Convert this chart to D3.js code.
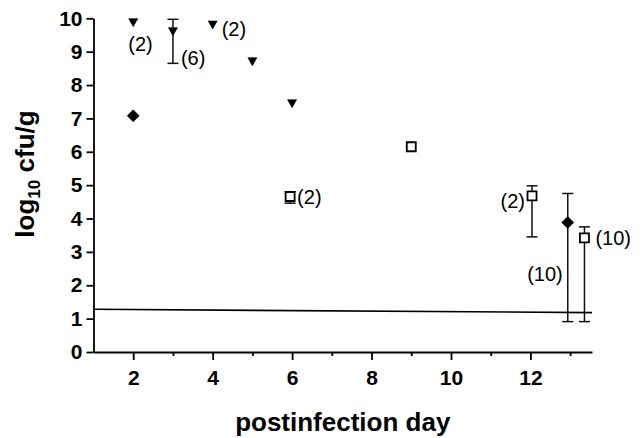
<!DOCTYPE html>
<html>
<head>
<meta charset="utf-8">
<script src="https://cdn.jsdelivr.net/npm/d3@7"></script>
<style>
  body { margin: 0; background: #fff; }
  svg { display: block; font-family: "Liberation Sans", Arial, sans-serif; }
  .axis path, .axis line { stroke: #000; stroke-width: 1.8; }
  .axis text { font-size: 21px; font-weight: bold; fill: #000; }
  .bar { stroke: #111; stroke-width: 1.5; fill: none; }
  .note { font-size: 20px; fill: #000; }
</style>
</head>
<body>
<svg id="chart" width="643" height="438"></svg>
<script>
// filled down triangles
var triangleDay = [2, 3, 4, 5, 6];
var triangleLog = [9.87, 9.6, 9.8, 8.7, 7.44];
var triangleLow = [null, 8.65, null, null, null];
var triangleHigh = [null, 9.97, null, null, null];
var triangleN = ['(2)', '(6)', '(2)', '', ''];

// filled diamonds
var diamondDay = [2, 12.94];
var diamondLog = [7.08, 3.88];
var diamondLow = [null, 0.91];
var diamondHigh = [null, 4.75];
var diamondN = ['', '(10)'];

// open squares
var squareDay = [5.95, 9, 12.04, 13.36];
var squareLog = [4.66, 6.15, 4.68, 3.42];
var squareLow = [4.46, null, 3.45, 0.91];
var squareHigh = [4.8, null, 4.98, 3.75];
var squareN = ['(2)', '', '(2)', '(10)'];

// detection limit line
var limitDay = [1, 13.55];
var limitLog = [1.28, 1.18];

var yTicks = [0, 1, 2, 3, 4, 5, 6, 7, 8, 9, 10];
var xTicks = [2, 4, 6, 8, 10, 12];
var xMinor = [3, 5, 7, 9, 11, 13];

// where the (n) labels sit relative to their mark: [dx, dy, anchor]
var triangleNotePos = [[-5, 28, 'start'], [8, 33, 'start'], [9, 11, 'start'], null, null];
var diamondNotePos = [null, [-5, 58, 'end']];
var squareNotePos = [[7, 8, 'start'], null, [-7, 12, 'end'], [11, 7, 'start']];

function zip(day, val, lo, hi, n, pos) {
  return day.map(function(d, i) {
    return { day: d, val: val[i], lo: lo[i], hi: hi[i], n: n[i], pos: pos[i] };
  });
}

var svg = d3.select('#chart');
var x = d3.scaleLinear().domain([1, 13.55]).range([93.5, 592]);
var y = d3.scaleLinear().domain([0, 10]).range([352, 18.3]);

// axes
svg.append('g')
  .attr('class', 'axis')
  .attr('transform', 'translate(' + x(1) + ',0)')
  .call(d3.axisLeft(y).tickValues(yTicks).tickSize(7).tickSizeOuter(0).tickPadding(4));

var xAxis = svg.append('g')
  .attr('class', 'axis')
  .attr('transform', 'translate(0,' + y(0) + ')')
  .call(d3.axisBottom(x).tickValues(xTicks).tickSize(8).tickSizeOuter(0).tickPadding(9));
xAxis.selectAll('.tick text').attr('dy', '0.78em');

svg.append('g')
  .attr('class', 'axis')
  .attr('transform', 'translate(0,' + y(0) + ')')
  .call(d3.axisBottom(x).tickValues(xMinor).tickSize(4).tickSizeOuter(0).tickFormat(''))
  .select('.domain').remove();

// axis titles
svg.append('text')
  .attr('x', x(1) + (x.range()[1] - x(1)) / 2)
  .attr('y', 431)
  .attr('text-anchor', 'middle')
  .style('font-size', '26px')
  .style('font-weight', 'bold')
  .text('postinfection day');

var ylab = svg.append('text')
  .attr('transform', 'translate(34,174) rotate(-90)')
  .attr('text-anchor', 'middle')
  .style('font-size', '26px')
  .style('font-weight', 'bold');
ylab.append('tspan').text('log');
ylab.append('tspan').attr('dy', 6).style('font-size', '17px').text('10');
ylab.append('tspan').attr('dy', -6).text(' cfu/g');

// detection limit
svg.append('line')
  .attr('x1', x(limitDay[0])).attr('y1', y(limitLog[0]))
  .attr('x2', x(limitDay[1])).attr('y2', y(limitLog[1]))
  .attr('stroke', '#000').attr('stroke-width', 1.6);

function drawSeries(data, shape, fill) {
  var g = svg.append('g');
  var withBars = data.filter(function(d) { return d.lo !== null; });

  g.selectAll('line.stem').data(withBars).enter().append('line')
    .attr('class', 'bar')
    .attr('x1', function(d) { return x(d.day); })
    .attr('x2', function(d) { return x(d.day); })
    .attr('y1', function(d) { return y(d.lo); })
    .attr('y2', function(d) { return y(d.hi); });

  ['lo', 'hi'].forEach(function(k) {
    g.selectAll('line.cap-' + k).data(withBars).enter().append('line')
      .attr('class', 'bar cap-' + k)
      .attr('x1', function(d) { return x(d.day) - 5.5; })
      .attr('x2', function(d) { return x(d.day) + 5.5; })
      .attr('y1', function(d) { return y(d[k]); })
      .attr('y2', function(d) { return y(d[k]); });
  });

  g.selectAll('path.mark').data(data).enter().append('path')
    .attr('class', 'mark')
    .attr('d', shape)
    .attr('transform', function(d) { return 'translate(' + x(d.day) + ',' + y(d.val) + ')'; })
    .attr('fill', fill)
    .attr('stroke', '#000')
    .attr('stroke-width', fill === '#fff' ? 1.8 : 0.6);

  g.selectAll('text.note').data(data.filter(function(d) { return d.pos; })).enter().append('text')
    .attr('class', 'note')
    .attr('x', function(d) { return x(d.day) + d.pos[0]; })
    .attr('y', function(d) { return y(d.val) + d.pos[1]; })
    .attr('text-anchor', function(d) { return d.pos[2]; })
    .text(function(d) { return d.n; });
}

var triShape = 'M-4.5,-4L4.5,-4L0,4Z';
var diaShape = 'M0,-6L6,0L0,6L-6,0Z';
var sqShape = 'M-4.5,-4.5H4.5V4.5H-4.5Z';

drawSeries(zip(squareDay, squareLog, squareLow, squareHigh, squareN, squareNotePos), sqShape, '#fff');
drawSeries(zip(diamondDay, diamondLog, diamondLow, diamondHigh, diamondN, diamondNotePos), diaShape, '#000');
drawSeries(zip(triangleDay, triangleLog, triangleLow, triangleHigh, triangleN, triangleNotePos), triShape, '#000');
</script>
</body>
</html>
